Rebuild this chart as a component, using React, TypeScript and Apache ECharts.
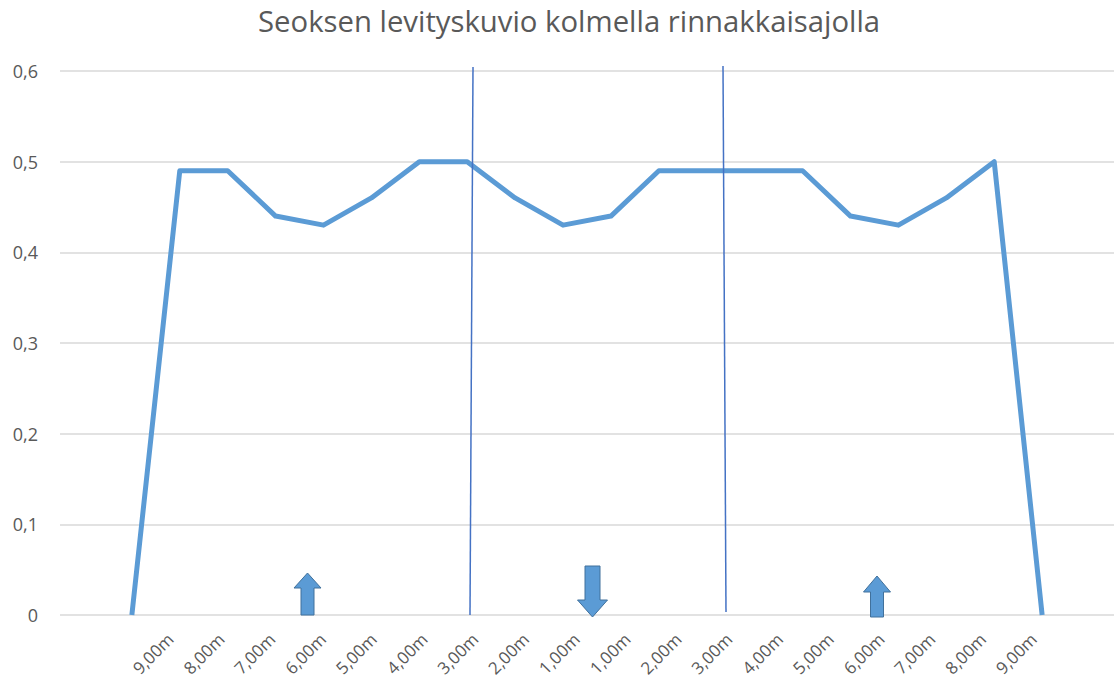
import React, { useEffect, useRef } from "react";
import * as echarts from "echarts";

const titleText = "Seoksen levityskuvio kolmella rinnakkaisajolla";
const xLabels = [
  "9,00m", "8,00m", "7,00m", "6,00m", "5,00m", "4,00m", "3,00m", "2,00m", "1,00m",
  "1,00m", "2,00m", "3,00m", "4,00m", "5,00m", "6,00m", "7,00m", "8,00m", "9,00m",
];
// line values on 22 slots (empty first and last)
const lineValues: (number | null)[] = [
  null, 0, 0.49, 0.49, 0.44, 0.43, 0.46, 0.5, 0.5, 0.46, 0.43, 0.44,
  0.49, 0.49, 0.49, 0.49, 0.44, 0.43, 0.46, 0.5, 0, null,
];
const yTicks = { min: 0, max: 0.6, interval: 0.1 };

const arrowFill = "#5b9bd5";
const arrowStroke = "#41719c";

export default function App() {
  const ref = useRef<HTMLDivElement>(null);
  useEffect(() => {
    if (!ref.current) return;
    const chart = echarts.init(ref.current, null, { renderer: "svg" });
    const slots = lineValues.map((_, i) => String(i));
    const upArrow = (cx: number, tipY: number, baseY: number, bottomY: number, halfHead: number, halfShaft: number) => ({
      type: "polygon",
      shape: {
        points: [
          [cx, tipY], [cx + halfHead, baseY], [cx + halfShaft, baseY], [cx + halfShaft, bottomY],
          [cx - halfShaft, bottomY], [cx - halfShaft, baseY], [cx - halfHead, baseY],
        ],
      },
      style: { fill: arrowFill, stroke: arrowStroke, lineWidth: 1 },
      z: 10,
    });
    const downArrow = (cx: number, topY: number, baseY: number, tipY: number, halfHead: number, halfShaft: number) => ({
      type: "polygon",
      shape: {
        points: [
          [cx - halfShaft, topY], [cx + halfShaft, topY], [cx + halfShaft, baseY], [cx + halfHead, baseY],
          [cx, tipY], [cx - halfHead, baseY], [cx - halfShaft, baseY],
        ],
      },
      style: { fill: arrowFill, stroke: arrowStroke, lineWidth: 1 },
      z: 10,
    });
    chart.setOption({
      animation: false,
      backgroundColor: "#ffffff",
      title: {
        text: titleText,
        left: 258,
        top: 6,
        padding: 0,
        textStyle: { fontFamily: "Open Sans", fontSize: 29.3, fontWeight: "normal", color: "#595959" },
      },
      grid: [
        { left: 60, right: 5, top: 71, bottom: 69 },
        { left: 145, right: 60, top: 71, bottom: 69 },
      ],
      xAxis: [
        {
          type: "category",
          gridIndex: 0,
          data: slots,
          boundaryGap: true,
          axisLine: { show: false },
          axisTick: { show: false },
          axisLabel: { show: false },
          splitLine: { show: false },
        },
        {
          type: "category",
          gridIndex: 1,
          data: xLabels,
          boundaryGap: true,
          axisLine: { show: false },
          axisTick: { show: false },
          splitLine: { show: false },
          axisLabel: {
            rotate: 45,
            margin: 21,
            interval: 0,
            fontFamily: "Open Sans",
            fontSize: 17,
            color: "#595959",
          },
        },
      ],
      yAxis: [
        {
          type: "value",
          gridIndex: 0,
          min: yTicks.min,
          max: yTicks.max,
          interval: yTicks.interval,
          axisLine: { show: false },
          axisTick: { show: false },
          axisLabel: {
            margin: 22,
            fontFamily: "Open Sans",
            fontSize: 18,
            color: "#595959",
            formatter: (v: number) => (v === 0 ? "0" : v.toFixed(1).replace(".", ",")),
          },
          splitLine: { lineStyle: { color: "#d9d9d9", width: 1.5 } },
        },
        {
          type: "value",
          gridIndex: 1,
          min: yTicks.min,
          max: yTicks.max,
          show: false,
          splitLine: { show: false },
        },
      ],
      series: [
        {
          type: "line",
          xAxisIndex: 0,
          yAxisIndex: 0,
          data: lineValues,
          showSymbol: false,
          symbol: "none",
          lineStyle: { color: "#5b9bd5", width: 5, join: "round" },
          itemStyle: { color: "#5b9bd5" },
          z: 3,
        },
      ],
      graphic: [
        { type: "line", shape: { x1: 473, y1: 67, x2: 470, y2: 615 }, style: { stroke: "#4472c4", lineWidth: 1.5 }, z: 10 },
        { type: "line", shape: { x1: 723, y1: 66, x2: 726, y2: 612 }, style: { stroke: "#4472c4", lineWidth: 1.5 }, z: 10 },
        upArrow(307.5, 573, 588, 615, 13.5, 6.5),
        downArrow(592.5, 566, 600, 617, 15, 7.5),
        upArrow(877, 576, 592, 617, 13.5, 6.5),
      ],
    });
    return () => chart.dispose();
  }, []);
  return (
    <div
      ref={ref}
      style={{ position: "absolute", left: 0, top: 0, width: 1119, height: 684, background: "#fff" }}
    />
  );
}
